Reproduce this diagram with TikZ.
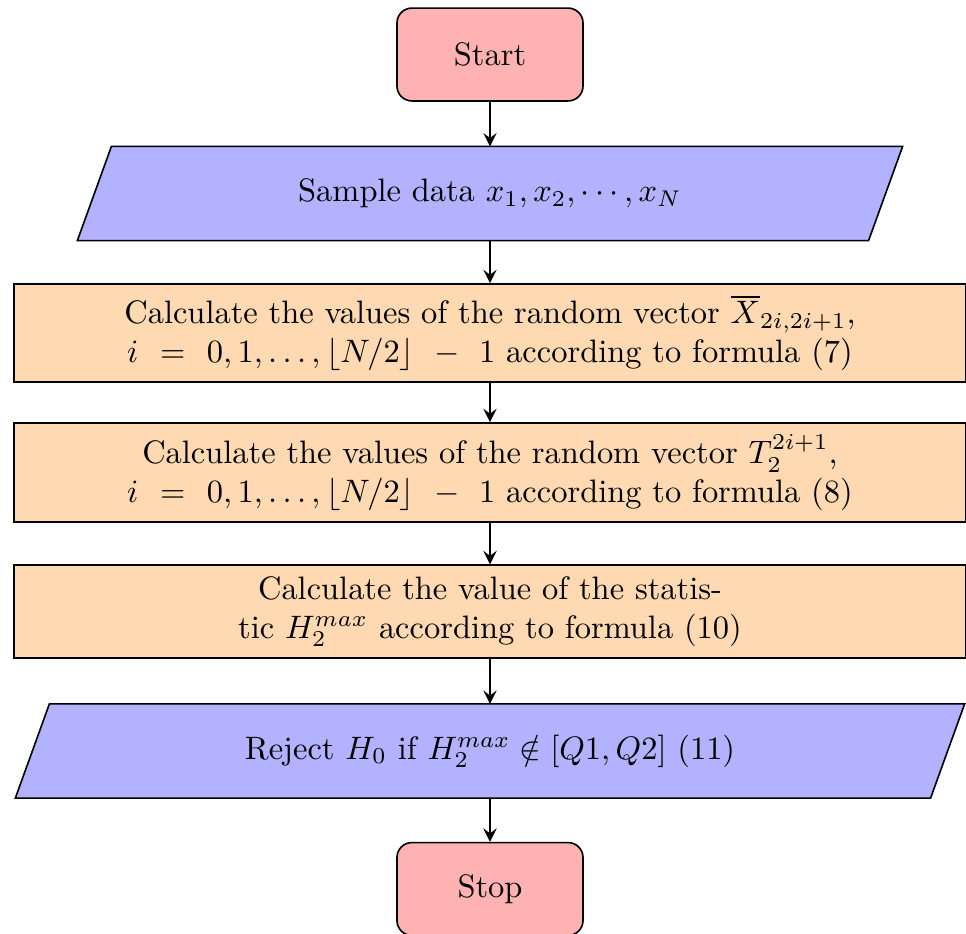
\documentclass[tikz,border=0pt]{standalone}
\usetikzlibrary{arrows.meta,backgrounds}
\newcommand{\wsp}{\mskip7mu}
\begin{document}
\begin{tikzpicture}[x=0.308pt,y=-0.308pt,
  term/.style={rectangle, rounded corners=4.6pt, draw=black, line width=0.5pt, fill=red!30,
    minimum width=57.3pt, minimum height=28.6pt, inner sep=0pt},
  proc/.style={rectangle, draw=black, line width=0.5pt, fill=orange!30, align=center,
    minimum width=293.2pt, inner sep=0pt},
  iobox/.style={rectangle, inner sep=0pt, minimum height=28.6pt, align=center},
  iofill/.style={draw=black, line width=0.5pt, fill=blue!30},
  conn/.style={thick, -stealth}]
\useasboundingbox (0,0) rectangle (966,934);
\node[term] (start) at (490,54.5) {Start};
\node[iobox, minimum width=243.3pt] (samp) at (490,193.5) {Sample data $x_1, x_2, \cdots, x_N$};
\node[proc, minimum height=30.2pt] (b1) at (490,333)
  {Calculate the values of the random vector $\overline{X}_{2i,2i+1}$,\\
   $i \wsp=\wsp 0,1,\ldots,\lfloor N/2\rfloor \wsp-\wsp 1$ according to formula (7)};
\node[proc, minimum height=30.5pt] (b2) at (490,472.5)
  {Calculate the values of the random vector $T_2^{2i+1}$,\\
   $i \wsp=\wsp 0,1,\ldots,\lfloor N/2\rfloor \wsp-\wsp 1$ according to formula (8)};
\node[proc, minimum height=28.6pt] (b3) at (490,611.5)
  {Calculate the value of the statis-\\
   tic $H_2^{max}$ according to formula (10)};
\node[iobox, minimum width=281.5pt] (rej) at (490,751)
  {Reject $H_0$ if $H_2^{max} \notin [Q1,Q2]$ (11)};
\node[term] (stop) at (490,889) {Stop};
\begin{scope}[on background layer]
  \path[iofill] ([xshift=5.24pt]samp.north west) -- ([xshift=5.24pt]samp.north east)
    -- ([xshift=-5.24pt]samp.south east) -- ([xshift=-5.24pt]samp.south west) -- cycle;
  \path[iofill] ([xshift=5.24pt]rej.north west) -- ([xshift=5.24pt]rej.north east)
    -- ([xshift=-5.24pt]rej.south east) -- ([xshift=-5.24pt]rej.south west) -- cycle;
\end{scope}
\draw[conn] (start) -- (samp);
\draw[conn] (samp) -- (b1);
\draw[conn] (b1) -- (b2);
\draw[conn] (b2) -- (b3);
\draw[conn] (b3) -- (rej);
\draw[conn] (rej) -- (stop);
\end{tikzpicture}
\end{document}
